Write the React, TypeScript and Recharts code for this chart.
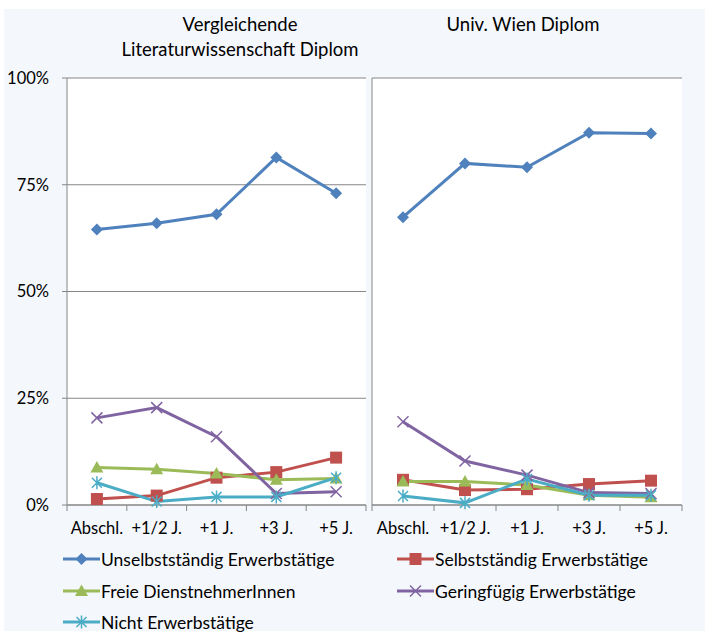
import { LineChart, Line, XAxis, YAxis, CartesianGrid } from "recharts"

const FONT = "Lato, 'Liberation Sans', sans-serif"
const GRID = "#868686"

const categories = ["Abschl.", "+1/2 J.", "+1 J.", "+3 J.", "+5 J."]
const yTicks = [0, 25, 50, 75, 100]

const seriesNames = [
  "Unselbstständig Erwerbstätige",
  "Selbstständig Erwerbstätige",
  "Freie DienstnehmerInnen",
  "Geringfügig Erwerbstätige",
  "Nicht Erwerbstätige",
]
const seriesKeys = ["unselbst", "selbst", "freie", "gering", "nicht"]
const seriesColors = ["#4F81BD", "#C0504D", "#9BBB59", "#8064A2", "#4BACC6"]
const seriesShapes = ["diamond", "square", "triangle", "x", "star"]

// Vergleichende Literaturwissenschaft Diplom
const litUnselbst = [64.5, 66.0, 68.1, 81.4, 73.0]
const litSelbst = [1.4, 2.2, 6.4, 7.7, 11.1]
const litFreie = [8.8, 8.4, 7.4, 5.9, 6.2]
const litGering = [20.4, 22.8, 16.0, 2.7, 3.1]
const litNicht = [5.2, 0.8, 1.9, 1.9, 6.4]

// Univ. Wien Diplom
const wienUnselbst = [67.4, 80.0, 79.1, 87.2, 87.0]
const wienSelbst = [5.9, 3.5, 3.7, 4.9, 5.7]
const wienFreie = [5.5, 5.5, 4.7, 2.3, 1.8]
const wienGering = [19.5, 10.3, 7.0, 2.9, 2.7]
const wienNicht = [2.1, 0.5, 6.1, 2.3, 2.3]

function buildData(series: number[][]) {
  return categories.map((cat, i) => {
    const row: any = { cat }
    seriesKeys.forEach((k, s) => (row[k] = series[s][i]))
    return row
  })
}

const litData = buildData([litUnselbst, litSelbst, litFreie, litGering, litNicht])
const wienData = buildData([wienUnselbst, wienSelbst, wienFreie, wienGering, wienNicht])

function Marker({ shape, color, cx, cy }: any) {
  if (cx == null || cy == null) return null
  switch (shape) {
    case "diamond":
      return <path d={`M${cx},${cy - 6}L${cx + 6},${cy}L${cx},${cy + 6}L${cx - 6},${cy}Z`} fill={color} />
    case "square":
      return <rect x={cx - 6} y={cy - 6} width={12} height={12} fill={color} />
    case "triangle":
      return <path d={`M${cx},${cy - 6.5}L${cx + 6.5},${cy + 5}L${cx - 6.5},${cy + 5}Z`} fill={color} />
    case "x":
      return (
        <path
          d={`M${cx - 5.5},${cy - 5.5}L${cx + 5.5},${cy + 5.5}M${cx + 5.5},${cy - 5.5}L${cx - 5.5},${cy + 5.5}`}
          stroke={color}
          strokeWidth={1.5}
          fill="none"
        />
      )
    default:
      return (
        <path
          d={`M${cx - 5},${cy - 5}L${cx + 5},${cy + 5}M${cx + 5},${cy - 5}L${cx - 5},${cy + 5}M${cx},${cy - 6.5}L${cx},${cy + 6.5}`}
          stroke={color}
          strokeWidth={1.5}
          fill="none"
        />
      )
  }
}

function CatTick({ x, y, payload, index, band }: any) {
  return (
    <g>
      <line x1={x - band / 2} x2={x - band / 2} y1={y} y2={y + 6} stroke={GRID} />
      {index === categories.length - 1 && (
        <line x1={x + band / 2} x2={x + band / 2} y1={y} y2={y + 6} stroke={GRID} />
      )}
      <text x={x} y={y + 23} dy="0.35em" textAnchor="middle" fill="#000" fontSize={16.5} fontFamily={FONT}>
        {payload.value}
      </text>
    </g>
  )
}

function Panel({ data, left, width, margin, band, showLabels }: any) {
  return (
    <div style={{ position: "absolute", left, top: 0 }}>
      <LineChart width={width} height={545} data={data} margin={margin}>
        <CartesianGrid vertical={false} stroke={GRID} fill="#ffffff" fillOpacity={1} />
        <XAxis
          dataKey="cat"
          height={30}
          interval={0}
          padding={{ left: band / 2, right: band / 2 }}
          tickLine={false}
          tickSize={0}
          tickMargin={0}
          axisLine={{ stroke: GRID }}
          tick={<CatTick band={band} />}
        />
        {showLabels ? (
          <YAxis
            width={67}
            domain={[0, 100]}
            ticks={yTicks}
            tickFormatter={(v) => `${v}%`}
            axisLine={{ stroke: GRID }}
            tickLine={{ stroke: GRID }}
            tickSize={5}
            tickMargin={13}
            tick={{ fill: "#000", fontSize: 16.5, fontFamily: FONT }}
          />
        ) : (
          <YAxis width={1} domain={[0, 100]} ticks={yTicks} tick={false} tickLine={false} axisLine={{ stroke: GRID }} />
        )}
        {seriesKeys.map((k, s) => (
          <Line
            key={k}
            dataKey={k}
            stroke={seriesColors[s]}
            strokeWidth={3}
            isAnimationActive={false}
            dot={(p: any) => (
              <Marker key={`${k}-${p.index}`} shape={seriesShapes[s]} color={seriesColors[s]} cx={p.cx} cy={p.cy} />
            )}
            activeDot={false}
          />
        ))}
      </LineChart>
    </div>
  )
}

function LegendItem({ idx, x, y }: any) {
  return (
    <div style={{ position: "absolute", left: x, top: y - 11, height: 22, display: "flex", alignItems: "center" }}>
      <svg width={37} height={16} style={{ marginRight: 1 }}>
        <line x1={0} x2={37} y1={8} y2={8} stroke={seriesColors[idx]} strokeWidth={3} />
        <Marker shape={seriesShapes[idx]} color={seriesColors[idx]} cx={18.5} cy={8} />
      </svg>
      <span style={{ fontSize: 17.5, color: "#000", whiteSpace: "nowrap" }}>{seriesNames[idx]}</span>
    </div>
  )
}

export default function App() {
  return (
    <div
      style={{
        position: "absolute",
        left: 0,
        top: 0,
        width: 705,
        height: 633,
        background: "#ffffff",
        fontFamily: FONT,
        overflow: "hidden",
      }}
    >
      <div style={{ position: "absolute", left: 4, top: 9, width: 701, height: 622, background: "#F4F7FC" }} />
      <Panel data={litData} left={0} width={371} margin={{ top: 78, right: 5, left: 0, bottom: 10 }} band={59.8} showLabels />
      <Panel data={wienData} left={371} width={334} margin={{ top: 78, right: 23, left: 0, bottom: 10 }} band={62} />
      <div style={{ position: "absolute", left: 90, top: 12, width: 300, textAlign: "center", fontSize: 18.5, lineHeight: "25px" }}>
        Vergleichende
        <br />
        Literaturwissenschaft Diplom
      </div>
      <div style={{ position: "absolute", left: 373, top: 12, width: 300, textAlign: "center", fontSize: 18.5, lineHeight: "25px" }}>
        Univ. Wien Diplom
      </div>
      <LegendItem idx={0} x={63} y={559} />
      <LegendItem idx={1} x={397} y={559} />
      <LegendItem idx={2} x={63} y={591} />
      <LegendItem idx={3} x={397} y={591} />
      <LegendItem idx={4} x={63} y={622} />
    </div>
  )
}
